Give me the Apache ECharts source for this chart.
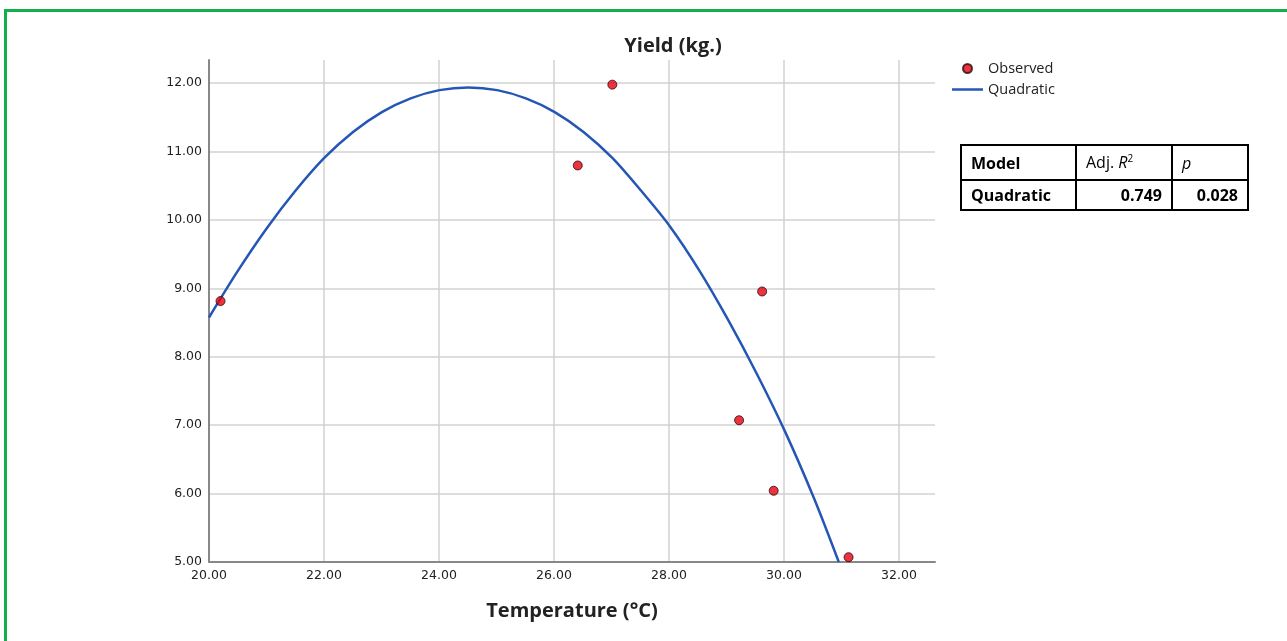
<!DOCTYPE html>
<html>
<head>
<meta charset="utf-8">
<script src="https://cdn.jsdelivr.net/npm/echarts@6/dist/echarts.min.js"></script>
<style>
  html, body { margin: 0; padding: 0; background: #fff; }
  #wrap { position: relative; width: 1287px; height: 641px; overflow: hidden; }
  #frame { position: absolute; left: 4px; top: 9px; width: 1300px; height: 700px;
           border-left: 3px solid #12b04a; border-top: 3px solid #12b04a; }
  #chart { position: absolute; left: 0; top: 0; width: 1287px; height: 641px; }
  .fit-table { position: absolute; left: 960px; top: 144px; border-collapse: collapse;
               font-family: "Open Sans", "Noto Sans", sans-serif; font-size: 16px; color: #000; }
  .fit-table td { border: 2px solid #000; padding: 0 9px; }
  .fit-table tr.head td { height: 33px; }
  .fit-table tr.body td { height: 28px; font-weight: bold; }
  .fit-table .num { text-align: right; }
</style>
</head>
<body>
<div id="wrap">
  <div id="frame"></div>
  <div id="chart"></div>
  <table class="fit-table">
    <tr class="head">
      <td style="width:95px;font-weight:bold">Model</td>
      <td style="width:76px">Adj. <i>R</i><sup style="font-size:10px">2</sup></td>
      <td style="width:56px"><i>p</i></td>
    </tr>
    <tr class="body">
      <td>Quadratic</td>
      <td class="num">0.749</td>
      <td class="num">0.028</td>
    </tr>
  </table>
</div>
<script>
// observed points
const obsTemp  = [20.2, 26.4, 27.0, 29.2, 29.6, 29.8, 31.1];
const obsYield = [8.81, 10.79, 11.97, 7.07, 8.95, 6.04, 5.07];

// quadratic fit line, every half degree
const fitTemp  = [20.0, 20.5, 21.0, 21.5, 22.0, 22.5, 23.0, 23.5, 24.0, 24.5, 25.0, 25.5,
                  26.0, 26.5, 27.0, 27.5, 28.0, 28.5, 29.0, 29.5, 30.0, 30.5, 30.93];
const fitYield = [8.57, 9.25, 9.87, 10.42, 10.9, 11.28, 11.57, 11.77, 11.89, 11.93, 11.89, 11.77,
                  11.57, 11.28, 10.9, 10.42, 9.9, 9.27, 8.55, 7.76, 6.9, 5.93, 5.0];

const xTicks = [20, 22, 24, 26, 28, 30, 32];
const yTicks = [5, 6, 7, 8, 9, 10, 11, 12];

const fmt = v => v.toFixed(2);
const gridColor = '#d2d2d2';
const labelStyle = { color: '#222', fontFamily: 'DejaVu Sans', fontSize: 12.5 };

const chart = echarts.init(document.getElementById('chart'));
chart.setOption({
  animation: false,
  title: {
    text: 'Yield (kg.)',
    left: 668, top: 31, textAlign: 'center',
    textStyle: { fontFamily: 'Open Sans', fontWeight: 'bold', fontSize: 20, color: '#222' }
  },
  legend: {
    orient: 'vertical', left: 947, top: 56,
    itemWidth: 31, itemHeight: 9, itemGap: 6,
    textStyle: { fontFamily: 'Open Sans', fontSize: 14.5, color: '#222' },
    data: [
      { name: 'Observed', icon: 'circle' },
      { name: 'Quadratic', icon: 'path://M0,0H31V2.5H0Z' }
    ]
  },
  grid: [
    { left: 209, right: 352, top: 60, bottom: 79 },  // main plot
    { left: 209, right: 352, top: 83, bottom: 79 },  // horizontal grid lines 5..12
    { left: 209, right: 388, top: 60, bottom: 79 }   // vertical grid lines 20..32
  ],
  xAxis: [
    {
      gridIndex: 0, type: 'value', min: 20, max: 32.6,
      name: 'Temperature (°C)', nameLocation: 'middle', nameGap: 39,
      nameTextStyle: { fontFamily: 'Open Sans', fontWeight: 'bold', fontSize: 20, color: '#222' },
      axisLine: { lineStyle: { color: '#888', width: 2 } },
      axisTick: { show: false }, axisLabel: { show: false }, splitLine: { show: false }
    },
    { gridIndex: 1, type: 'value', min: 20, max: 32.6, show: false },
    {
      gridIndex: 2, type: 'value', min: xTicks[0], max: xTicks[xTicks.length - 1], interval: 2,
      axisLine: { show: false }, axisTick: { show: false },
      axisLabel: Object.assign({ formatter: fmt, margin: 7 }, labelStyle),
      splitLine: { lineStyle: { color: gridColor, width: 1.5 } }
    }
  ],
  yAxis: [
    {
      gridIndex: 0, type: 'value', min: 5, max: 12.33,
      axisLine: { show: true, lineStyle: { color: '#888', width: 2 } },
      axisTick: { show: false }, axisLabel: { show: false }, splitLine: { show: false }
    },
    {
      gridIndex: 1, type: 'value', min: yTicks[0], max: yTicks[yTicks.length - 1], interval: 1,
      axisLine: { show: false }, axisTick: { show: false },
      axisLabel: Object.assign({ formatter: fmt, margin: 7 }, labelStyle),
      splitLine: { lineStyle: { color: gridColor, width: 1.5 } }
    },
    { gridIndex: 2, type: 'value', min: 5, max: 12.33, show: false }
  ],
  series: [
    {
      name: 'Quadratic', type: 'line', xAxisIndex: 0, yAxisIndex: 0,
      data: fitTemp.map((t, i) => [t, fitYield[i]]),
      smooth: 0.3, symbol: 'none',
      lineStyle: { color: '#2457b5', width: 2.5 },
      itemStyle: { color: '#2457b5' },
      z: 3
    },
    {
      name: 'Observed', type: 'scatter', xAxisIndex: 0, yAxisIndex: 0,
      data: obsTemp.map((t, i) => [t, obsYield[i]]),
      symbolSize: 9,
      itemStyle: { color: '#e60012', borderColor: '#2a0a0a', borderWidth: 1 },
      z: 4
    }
  ]
});
</script>
</body>
</html>
